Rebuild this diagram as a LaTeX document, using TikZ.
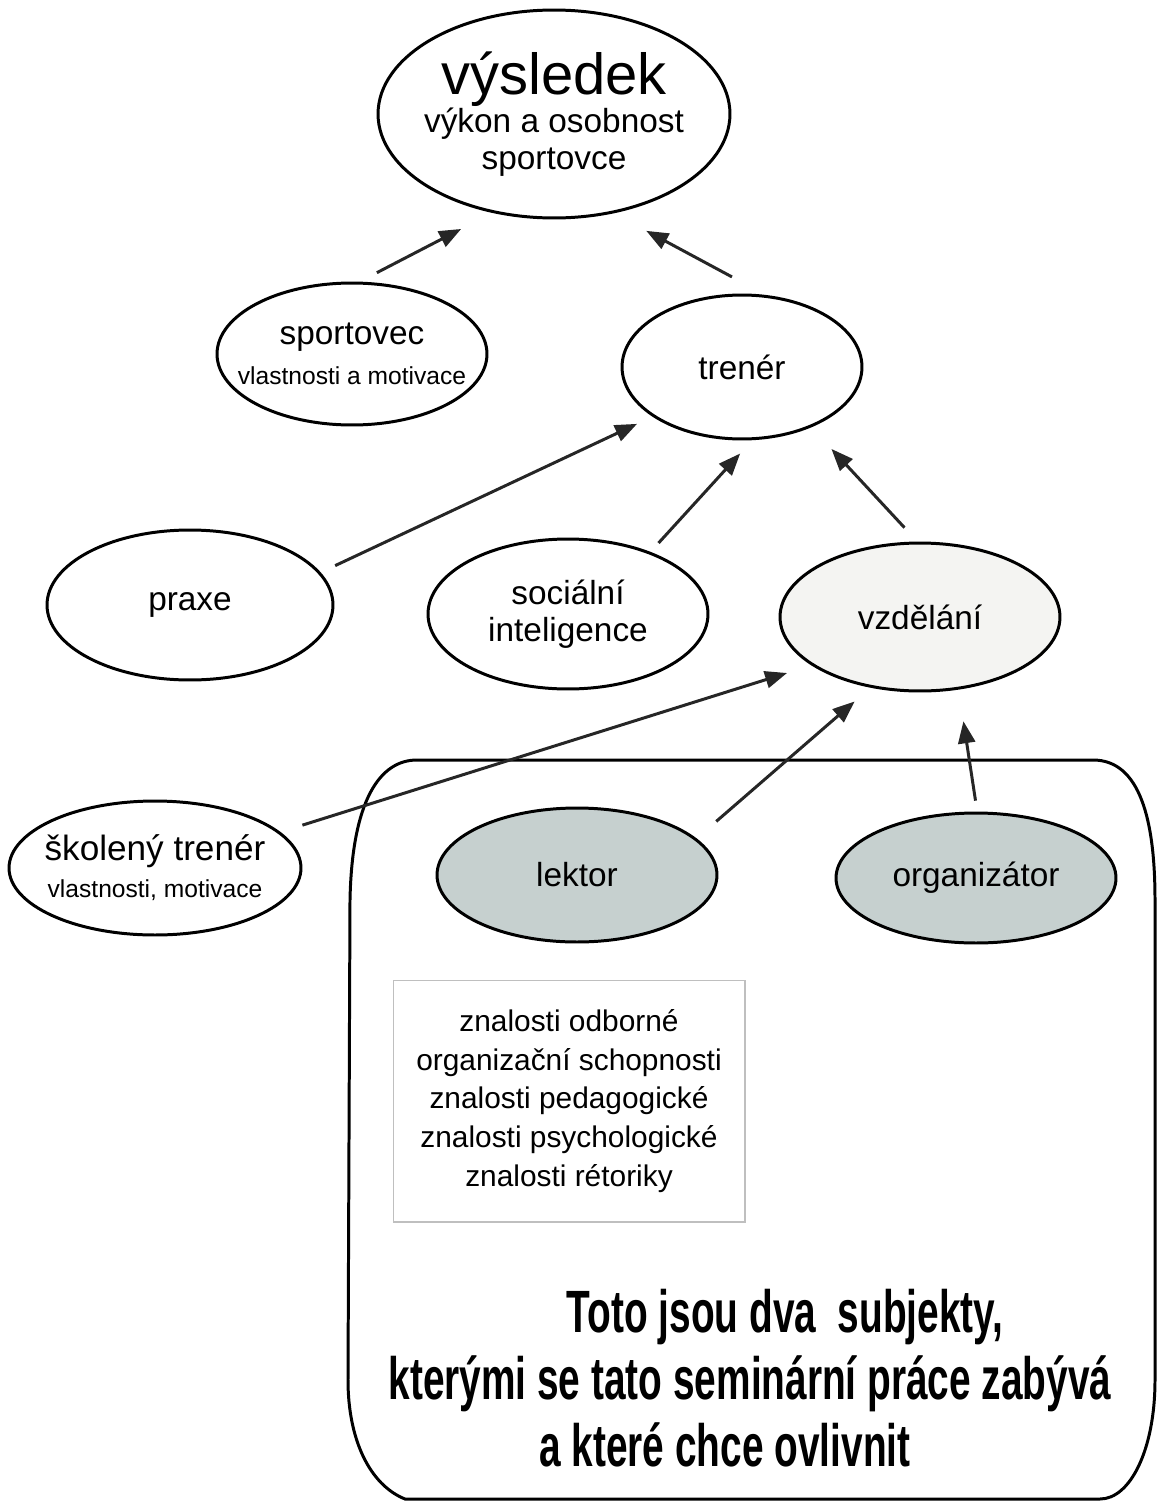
\documentclass[tikz,border=0pt]{standalone}
\usepackage{fontspec}
\setmainfont{Liberation Sans}
\newfontfamily\narrowbold[FakeStretch=0.65]{Liberation Sans}
\usetikzlibrary{shapes.geometric,arrows.meta}
\definecolor{skvrny}{RGB}{198,208,207}
\definecolor{svetla}{RGB}{244,244,242}
\begin{document}
\begin{tikzpicture}[x=0.02cm,y=-0.02cm,
    bubble/.style={draw,ellipse,line width=1.7pt,inner sep=-1cm,align=center,
      font=\fontsize{19}{21}\selectfont},
    arr/.style={-{Triangle[length=0.44cm,width=0.34cm]},line width=1.7pt,draw=black!85,fill=black!85}]
    \useasboundingbox (0,0) rectangle (1157,1501);
    \draw[line width=1.7pt] (417,760) -- (1093,760) .. controls (1140,760) and (1155,820) .. (1155,900)
        -- (1155,1380) .. controls (1155,1450) and (1130,1499) .. (1100,1499) -- (405,1499)
        .. controls (370,1485) and (348,1440) .. (348,1380) -- (350,900)
        .. controls (352,800) and (380,760) .. (417,760);
    \node[bubble,minimum width=7.04cm,minimum height=4.16cm] (vysledek) at (554,114)
        {{\fontsize{33}{36}\selectfont výsledek}\\[1pt]výkon a osobnost\\sportovce};
    \node[bubble,minimum width=5.4cm,minimum height=2.84cm] (sportovec) at (352,354)
        {sportovec\\[2pt]{\fontsize{14}{16}\selectfont vlastnosti a motivace}};
    \node[bubble,minimum width=4.8cm,minimum height=2.88cm] (trener) at (742,367) {trenér};
    \node[bubble,minimum width=5.72cm,minimum height=3cm] (praxe) at (190,605) {praxe};
    \node[bubble,minimum width=5.6cm,minimum height=3cm] (socialni) at (568,614) {sociální\\inteligence};
    \node[bubble,fill=svetla,minimum width=5.6cm,minimum height=2.96cm] (vzdelani) at (920,617) {vzdělání};
    \node[bubble,minimum width=5.84cm,minimum height=2.68cm] (skoleny) at (155,868)
        {\fontsize{20}{22}\selectfont školený trenér\\{\fontsize{14}{16}\selectfont vlastnosti, motivace}};
    \node[bubble,fill=skvrny,minimum width=5.6cm,minimum height=2.68cm] (lektor) at (577,875) {lektor};
    \node[bubble,fill=skvrny,minimum width=5.6cm,minimum height=2.6cm] (organizator) at (976,878) {organizátor};
    \node[draw=black!25,line width=0.6pt,minimum width=7.04cm,minimum height=4.84cm,align=center,
        font=\fontsize{17}{22}\selectfont] (znalosti) at (569,1101)
        {znalosti odborné\\organizační schopnosti\\znalosti pedagogické\\znalosti psychologické\\znalosti rétoriky};
    \node[align=center,font=\narrowbold\bfseries\fontsize{34}{38}\selectfont] (subjekty) at (750,1378)
        {\hspace*{1.4cm}Toto jsou dva\ \ subjekty,\\kterými se tato seminární práce zabývá\\a které chce ovlivnit\hspace*{1cm}};
    \draw[arr,shorten <=0.39cm,shorten >=0.7cm] (sportovec.84) -- (vysledek.238);
    \draw[arr,shorten <=0.76cm,shorten >=0.74cm] (trener.72) -- (vysledek.301);
    \draw[arr,shorten <=0.32cm,shorten >=0.34cm] (praxe.14.5) -- (trener.209);
    \draw[arr,shorten <=0.24cm,shorten >=0.36cm] (socialni.37) -- (trener.278);
    \draw[arr,shorten <=0.38cm,shorten >=0.59cm] (vzdelani.92.5) -- (trener.319);
    \draw[arr,shorten <=0.46cm,shorten >=0.51cm] (skoleny.16.4) -- (vzdelani.204);
    \draw[arr,shorten <=0.52cm,shorten >=0.42cm] (lektor.17) -- (vzdelani.235);
    \draw[arr,shorten <=0.22cm,shorten >=0.64cm] (organizator.89.5) -- (vzdelani.298);
\end{tikzpicture}
\end{document}
